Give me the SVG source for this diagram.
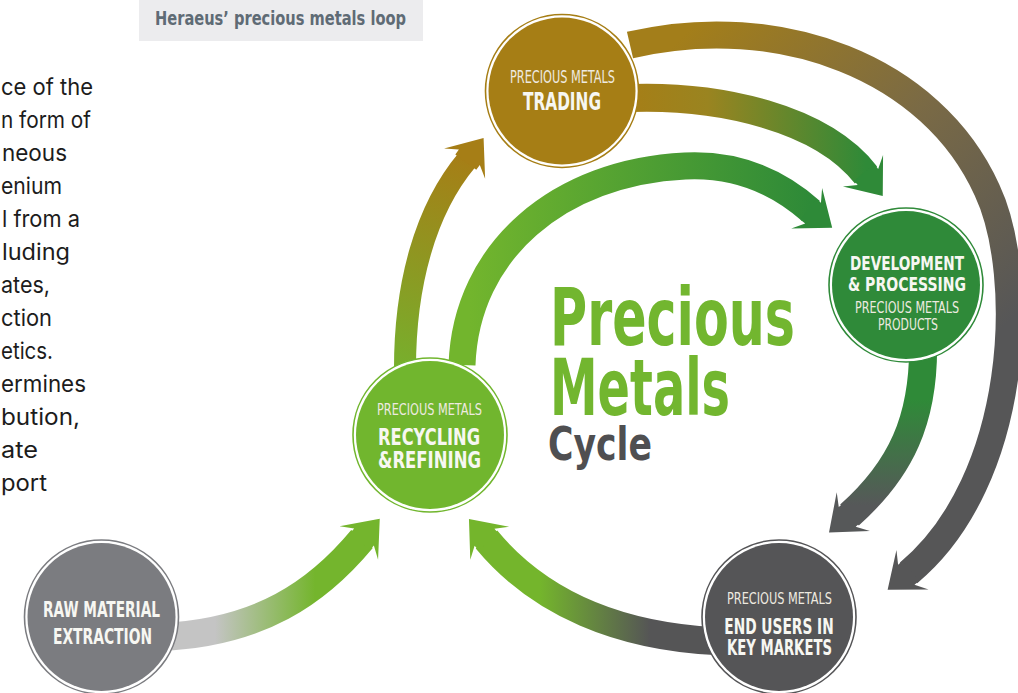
<svg xmlns="http://www.w3.org/2000/svg" width="1018" height="693" viewBox="0 0 1018 693">
<style>
.cond{font-family:"Liberation Sans Narrow","DejaVu Sans Condensed","Roboto Condensed","Liberation Sans",sans-serif}
.b{font-weight:bold}
.body{font-family:Inter,"Liberation Sans",sans-serif;font-size:22.5px;fill:#1c1c1c}
.band{fill:none;stroke-linecap:butt}
.ring{fill:#fff;stroke-width:1.6}
.nt{fill:#f7f7f2;text-anchor:middle}
.pm{fill:#eeeae0;text-anchor:middle}
</style>
<defs>
<path id="ah" d="M32,0 L0,-25.5 L8,-13 L2,-13 L2,13 L8,13 L0,25.5 Z"/>
<linearGradient id="gA" gradientUnits="userSpaceOnUse" x1="405" y1="365" x2="468" y2="158"><stop offset="0" stop-color="#78ae2c"/><stop offset="1" stop-color="#a67e16"/></linearGradient>
<linearGradient id="gB" gradientUnits="userSpaceOnUse" x1="470" y1="0" x2="810" y2="0"><stop offset="0" stop-color="#72b52d"/><stop offset="1" stop-color="#2e8a38"/></linearGradient>
<linearGradient id="gC" gradientUnits="userSpaceOnUse" x1="640" y1="0" x2="866" y2="0"><stop offset="0" stop-color="#a47f18"/><stop offset="0.3" stop-color="#9a8420"/><stop offset="1" stop-color="#2f8a38"/></linearGradient>
<linearGradient id="gG" gradientUnits="userSpaceOnUse" x1="700" y1="20" x2="1000" y2="330"><stop offset="0" stop-color="#a37e1a"/><stop offset="0.5" stop-color="#7a6a45"/><stop offset="1" stop-color="#565657"/></linearGradient>
<linearGradient id="gD" gradientUnits="userSpaceOnUse" x1="0" y1="400" x2="0" y2="505"><stop offset="0" stop-color="#2f8a38"/><stop offset="1" stop-color="#565859"/></linearGradient>
<linearGradient id="gE" gradientUnits="userSpaceOnUse" x1="650" y1="0" x2="540" y2="0"><stop offset="0" stop-color="#555556"/><stop offset="1" stop-color="#74b52c"/></linearGradient>
<linearGradient id="gF" gradientUnits="userSpaceOnUse" x1="215" y1="0" x2="315" y2="0"><stop offset="0" stop-color="#c4c4c4"/><stop offset="1" stop-color="#74b52d"/></linearGradient>
</defs>
<rect width="1018" height="693" fill="#fff"/>

<g id="body-text" class="body" lengthAdjust="spacingAndGlyphs">
<text x="1" y="95" textLength="92" lengthAdjust="spacingAndGlyphs">ce of the</text>
<text x="1" y="128" textLength="90" lengthAdjust="spacingAndGlyphs">n form of</text>
<text x="2" y="161" textLength="65" lengthAdjust="spacingAndGlyphs">neous</text>
<text x="1" y="194" textLength="61" lengthAdjust="spacingAndGlyphs">enium</text>
<text x="2" y="227" textLength="78" lengthAdjust="spacingAndGlyphs">l from a</text>
<text x="2" y="260" textLength="68" lengthAdjust="spacingAndGlyphs">luding</text>
<text x="1" y="293" textLength="49" lengthAdjust="spacingAndGlyphs">ates,</text>
<text x="1" y="326" textLength="51" lengthAdjust="spacingAndGlyphs">ction</text>
<text x="1" y="359" textLength="52" lengthAdjust="spacingAndGlyphs">etics.</text>
<text x="1" y="392" textLength="85" lengthAdjust="spacingAndGlyphs">ermines</text>
<text x="1" y="425" textLength="79" lengthAdjust="spacingAndGlyphs">bution,</text>
<text x="1" y="458" textLength="37" lengthAdjust="spacingAndGlyphs">ate</text>
<text x="1" y="491" textLength="46" lengthAdjust="spacingAndGlyphs">port</text>
</g>

<g id="title">
<rect x="139" y="0" width="284" height="41" fill="#ececee"/>
<text x="155" y="25" class="cond b" font-size="20" fill="#5f6b75" textLength="251" lengthAdjust="spacingAndGlyphs">Heraeus’ precious metals loop</text>
</g>

<g id="connectors">
<path class="band" stroke="url(#gG)" stroke-width="27" d="M630,45 C780,10 932,68 987,190 C1027,275 1020,480 908.6,572.8"/>
<use href="#ah" fill="#565657" transform="translate(912.5,569.7) rotate(141)"/>
<path class="band" stroke="url(#gC)" stroke-width="28" d="M630,98 C720,95 822,118 866,175"/>
<use href="#ah" fill="#2f8a38" transform="translate(863,170.8) rotate(51.9)"/>
<path class="band" stroke="url(#gB)" stroke-width="27" d="M462,365 C466,250 560,172 685,166 C745,163 785,188 811,211"/>
<use href="#ah" fill="#2e8a38" transform="translate(806.7,208.3) rotate(37.2)"/>
<path class="band" stroke="url(#gA)" stroke-width="22" d="M405,368 C405,285 425,210 467,160"/>
<use href="#ah" fill="#a67e16" transform="translate(464.6,163.7) rotate(-53.6)"/>
<path class="band" stroke="url(#gD)" stroke-width="28" d="M923,340 C925,420 900,470 849.5,515"/>
<use href="#ah" fill="#565859" transform="translate(853.3,511.7) rotate(139.4)"/>
<path class="band" stroke="url(#gE)" stroke-width="28" d="M715,641 C620,636 540,604 486.5,539.5"/>
<use href="#ah" fill="#74b52c" transform="translate(489.7,543.3) rotate(-130.4)"/>
<path class="band" stroke="url(#gF)" stroke-width="28" d="M160,637 C260,633 318,592 362,539"/>
<use href="#ah" fill="#74b52d" transform="translate(358.8,543) rotate(-49.1)"/>
</g>

<g id="node-trading">
<circle cx="562" cy="91" r="76.5" class="ring" stroke="#a67e15"/>
<circle cx="562" cy="91" r="73.5" fill="#a67e15"/>
<text x="562.5" y="83" class="cond pm" font-size="17" textLength="105" lengthAdjust="spacingAndGlyphs">PRECIOUS METALS</text>
<text x="562" y="110" class="cond b nt" font-size="24" textLength="78" lengthAdjust="spacingAndGlyphs">TRADING</text>
</g>

<g id="node-development">
<circle cx="906" cy="285" r="77" class="ring" stroke="#2f8a39"/>
<circle cx="906" cy="285" r="74" fill="#2f8a39"/>
<text x="907" y="270" class="cond b nt" font-size="19.5" textLength="114" lengthAdjust="spacingAndGlyphs">DEVELOPMENT</text>
<text x="907" y="291" class="cond b nt" font-size="19.5" textLength="118" lengthAdjust="spacingAndGlyphs">&amp; PROCESSING</text>
<text x="907" y="313" class="cond pm" font-size="15" textLength="104" lengthAdjust="spacingAndGlyphs">PRECIOUS METALS</text>
<text x="908" y="330" class="cond pm" font-size="15" textLength="60" lengthAdjust="spacingAndGlyphs">PRODUCTS</text>
</g>

<g id="node-recycling">
<circle cx="430" cy="435" r="77" class="ring" stroke="#71b62e"/>
<circle cx="430" cy="435" r="74" fill="#71b62e"/>
<text x="429.5" y="415" class="cond pm" font-size="16.5" textLength="105" lengthAdjust="spacingAndGlyphs">PRECIOUS METALS</text>
<text x="429" y="445" class="cond b nt" font-size="23" textLength="102" lengthAdjust="spacingAndGlyphs">RECYCLING</text>
<text x="429.5" y="468" class="cond b nt" font-size="23" textLength="103" lengthAdjust="spacingAndGlyphs">&amp;REFINING</text>
</g>

<g id="node-endusers">
<circle cx="779" cy="617" r="77" class="ring" stroke="#555557"/>
<circle cx="779" cy="617" r="74" fill="#555557"/>
<text x="779.5" y="604" class="cond pm" font-size="15.5" textLength="105" lengthAdjust="spacingAndGlyphs">PRECIOUS METALS</text>
<text x="779" y="634" class="cond b nt" font-size="22" textLength="109.5" lengthAdjust="spacingAndGlyphs">END USERS IN</text>
<text x="779.5" y="655" class="cond b nt" font-size="22" textLength="105" lengthAdjust="spacingAndGlyphs">KEY MARKETS</text>
</g>

<g id="node-raw">
<circle cx="101.5" cy="617" r="77" class="ring" stroke="#7b7c80"/>
<circle cx="101.5" cy="617" r="74" fill="#7b7c80"/>
<text x="101.5" y="617" class="cond b nt" font-size="21" textLength="117" lengthAdjust="spacingAndGlyphs">RAW MATERIAL</text>
<text x="102.5" y="644" class="cond b nt" font-size="21" textLength="99" lengthAdjust="spacingAndGlyphs">EXTRACTION</text>
</g>

<g id="center-title" class="cond b">
<text x="550" y="345" font-size="80" fill="#72b62f" textLength="245" lengthAdjust="spacingAndGlyphs">Precious</text>
<text x="550" y="415" font-size="79" fill="#72b62f" textLength="180" lengthAdjust="spacingAndGlyphs">Metals</text>
<text x="548" y="460" font-size="47" fill="#4f4f51" textLength="104" lengthAdjust="spacingAndGlyphs">Cycle</text>
</g>
</svg>
